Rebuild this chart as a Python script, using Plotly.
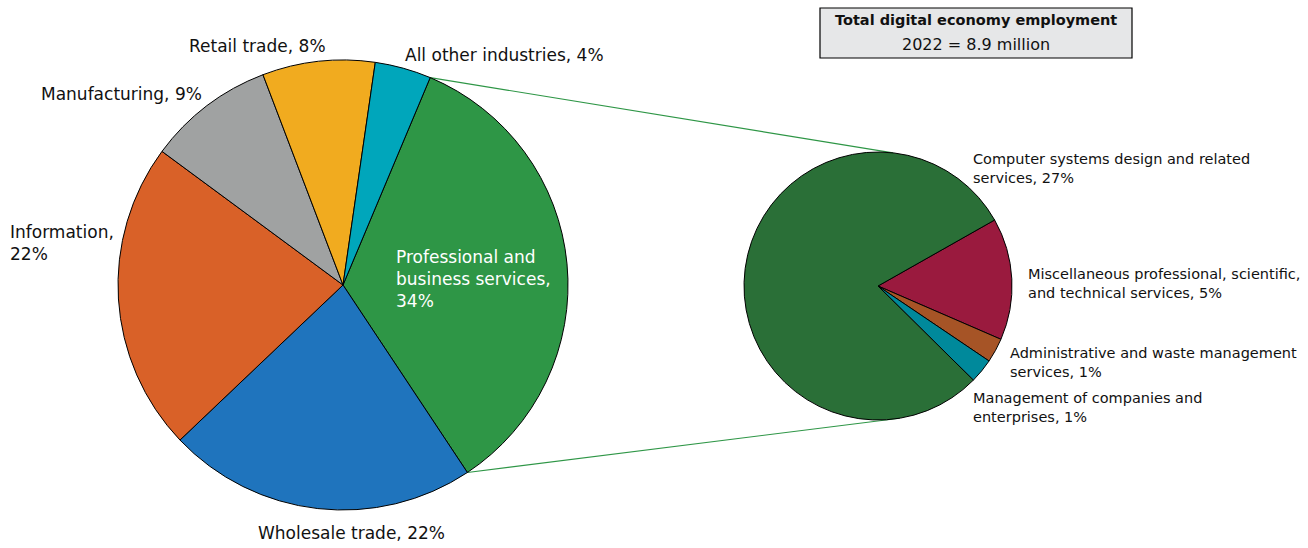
import math
import plotly.graph_objects as go

W, H = 1308, 548

# Digital economy employment by industry, 2022 (share of total, %)
industries = ["Professional and<br>business services", "Wholesale trade", "Information",
              "Manufacturing", "Retail trade", "All other industries"]
industry_share = [34, 22, 22, 9, 8, 4]
industry_colors = ["#2E9646", "#1F74BD", "#D96128", "#A0A2A2", "#F1AB1F", "#00A6BB"]

# Breakdown of professional and business services (share of total, %)
subsectors = ["Miscellaneous professional, scientific,<br>and technical services",
              "Administrative and waste management<br>services",
              "Management of companies and<br>enterprises",
              "Computer systems design and related<br>services"]
subsector_share = [5, 1, 1, 27]
subsector_colors = ["#9A1A3E", "#A65426", "#00899B", "#2A6F37"]

FONT = "DejaVu Sans"

# pie geometry in pixels (center x, center y from top, radius)
L_CX, L_CY, L_R = 343, 285, 225
R_CX, R_CY, R_R = 878, 286, 134
L_ROT = 22.8
R_ROT = 60.5


def domain(cx, cy, r):
    return dict(x=[(cx - r) / W, (cx + r) / W], y=[1 - (cy + r) / H, 1 - (cy - r) / H])


def px(x):
    return x / W


def py(y):
    return 1 - y / H


def edge(cx, cy, r, ang):
    a = math.radians(ang)
    return cx + r * math.sin(a), cy - r * math.cos(a)


fig = go.Figure()
fig.add_trace(go.Pie(
    labels=industries, values=industry_share, sort=False, direction="clockwise",
    rotation=L_ROT, marker=dict(colors=industry_colors, line=dict(color="black", width=1)),
    textinfo="none", hoverinfo="label+value", domain=domain(L_CX, L_CY, L_R), showlegend=False,
))
fig.add_trace(go.Pie(
    labels=subsectors, values=subsector_share, sort=False, direction="clockwise",
    rotation=R_ROT, marker=dict(colors=subsector_colors, line=dict(color="black", width=1)),
    textinfo="none", hoverinfo="label+value", domain=domain(R_CX, R_CY, R_R), showlegend=False,
))

# connector lines from the professional services slice to the breakdown pie
total = sum(industry_share)
start_ang = L_ROT
end_ang = L_ROT + industry_share[0] / total * 360
x0, y0 = edge(L_CX, L_CY, L_R, start_ang)
x1, y1 = edge(R_CX, R_CY, R_R, 6.4)
x2, y2 = edge(L_CX, L_CY, L_R, end_ang)
x3, y3 = edge(R_CX, R_CY, R_R, 170.7)
for (a, b, c, d) in [(x0, y0, x1, y1), (x2, y2, x3, y3)]:
    fig.add_shape(type="line", xref="paper", yref="paper",
                  x0=px(a), y0=py(b), x1=px(c), y1=py(d),
                  line=dict(color="#2E9646", width=1.2), layer="below")


def label(text, x, y, size=17, color="#111", xanchor="left", yanchor="middle"):
    fig.add_annotation(text=text, x=px(x), y=py(y), xref="paper", yref="paper",
                       showarrow=False, xanchor=xanchor, yanchor=yanchor, align="left",
                       font=dict(family=FONT, size=size, color=color))


def pct(v):
    return f"{v}%"


# main pie labels
label(f"{industries[4]}, {pct(industry_share[4])}", 187, 46)
label(f"{industries[5]}, {pct(industry_share[5])}", 403, 55)
label(f"{industries[3]}, {pct(industry_share[3])}", 39, 94)
label(f"{industries[2]},<br>{pct(industry_share[2])}", 8, 243)
label(f"{industries[1]}, {pct(industry_share[1])}", 256, 533)
label(f"{industries[0]},<br>{pct(industry_share[0])}", 394, 279, color="white")

# breakdown labels
label(f"{subsectors[3]}, {pct(subsector_share[3])}", 971, 168, size=14.5)
label(f"{subsectors[0]}, {pct(subsector_share[0])}", 1026, 283, size=14.5)
label(f"{subsectors[1]}, {pct(subsector_share[1])}", 1008, 362, size=14.5)
label(f"{subsectors[2]}, {pct(subsector_share[2])}", 971, 407, size=14.5)

# total employment box
fig.add_shape(type="rect", xref="paper", yref="paper",
              x0=px(820), x1=px(1132), y0=py(58), y1=py(8),
              fillcolor="#E6E7E8", line=dict(color="black", width=1.2))
label("<b>Total digital economy employment</b>", 976, 20, size=14.5, xanchor="center")
label("2022 = 8.9 million", 976, 44, size=16, xanchor="center")

fig.update_layout(width=W, height=H, margin=dict(l=0, r=0, t=0, b=0),
                  paper_bgcolor="white", plot_bgcolor="white")
fig.write_html("out.html")
